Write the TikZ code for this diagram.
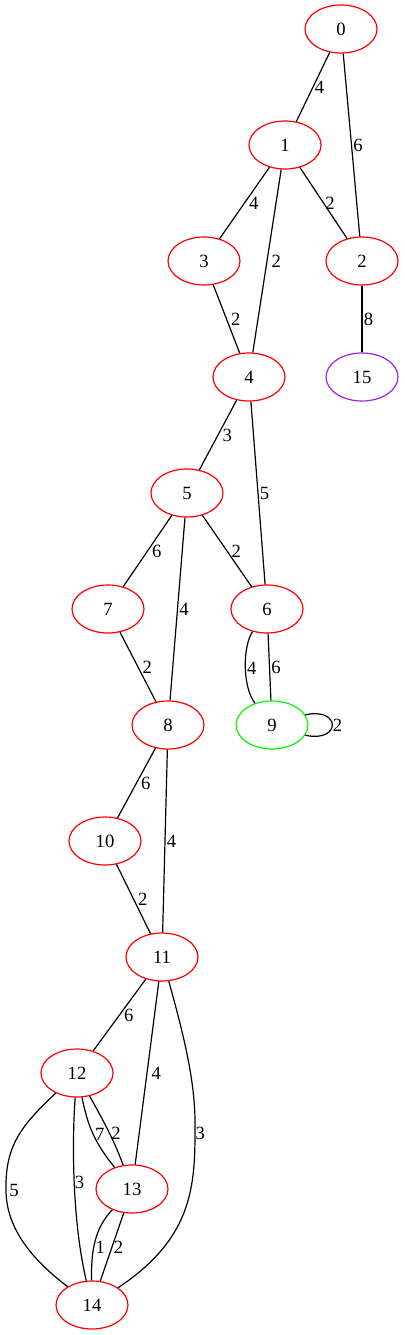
\documentclass[tikz,border=0pt]{standalone}
\usepackage{fontspec}
\setmainfont{Liberation Serif}
\usepackage{tikz}
\usetikzlibrary{shapes.geometric}
\definecolor{vertexRed}{RGB}{255, 0, 0}
\definecolor{goalGreen}{RGB}{0, 255, 0}
\definecolor{sinkPurple}{RGB}{160, 32, 240}
\definecolor{edgeBlack}{RGB}{0, 0, 0}

\begin{document}
\begin{tikzpicture}[x=0.75pt, y=-0.75pt, every node/.style={font=\fontsize{14}{16}\selectfont},
    vertex/.style={ellipse, draw=vertexRed, line width=0.9pt, minimum width=54pt, minimum height=36pt, inner sep=0pt},
    elab/.style={anchor=west, inner sep=1pt},
    elabs/.style={anchor=west, inner sep=3pt},
    edge/.style={line width=0.9pt, draw=edgeBlack}]
    \useasboundingbox (0,0) rectangle (404,1335);

    \node[vertex] (0) at (341,29) {0};
    \node[vertex] (1) at (285,145) {1};
    \node[vertex] (3) at (204,261) {3};
    \node[vertex] (2) at (362,261) {2};
    \node[vertex] (4) at (249,377) {4};
    \node[vertex, draw=sinkPurple] (15) at (362,377) {15};
    \node[vertex] (5) at (187,493) {5};
    \node[vertex] (7) at (108,609) {7};
    \node[vertex] (6) at (267,609) {6};
    \node[vertex] (8) at (168,725) {8};
    \node[vertex, draw=goalGreen] (9) at (272,725) {9};
    \node[vertex] (10) at (105,841) {10};
    \node[vertex] (11) at (162,957) {11};
    \node[vertex] (12) at (77,1073) {12};
    \node[vertex] (13) at (132,1189) {13};
    \node[vertex] (14) at (92,1305) {14};

    \draw[edge] (0) -- node[elab] {4} (1);
    \draw[edge] (0) -- node[elab] {6} (2);
    \draw[edge] (1) -- node[elabs] {4} (3);
    \draw[edge] (1) -- node[elabs] {2} (4);
    \draw[edge] (1) -- node[elab] {2} (2);
    \draw[edge] (3) -- node[elabs] {2} (4);
    \draw[edge] (2) -- node[elab] {8} (15);
    \draw[edge] (4) -- node[elabs] {3} (5);
    \draw[edge] (4) -- node[elab] {5} (6);
    \draw[edge] (5) -- node[elabs] {6} (7);
    \draw[edge] (5) -- node[elab] {4} (8);
    \draw[edge] (5) -- node[elabs] {2} (6);
    \draw[edge] (7) -- node[elabs] {2} (8);
    \draw[edge] (6) .. controls (242,648) and (243,688) .. node[elab] {4} (9);
    \draw[edge] (6) -- node[elab] {6} (9);
    % 9 hat eine Schleife auf sich selbst
    \draw[edge] (9.17) .. controls +(36,-8) and +(36,8) .. node[elab, inner sep=0pt] {2} (9.-17);
    \draw[edge] (8) -- node[elabs] {6} (10);
    \draw[edge] (8) -- node[elab] {4} (11);
    \draw[edge] (10) -- node[elabs] {2} (11);
    \draw[edge] (11) -- node[elabs] {6} (12);
    \draw[edge] (11) -- node[elabs] {4} (13);
    \draw[edge] (11) .. controls (188,1050) and (196,1090) .. (195,1133) node[elab, inner sep=0pt] {3}
        .. controls (195,1190) and (190,1240) .. (14);
    \draw[edge] (12) .. controls (88,1127) and (95,1143) .. node[elab] {7} (13);
    \draw[edge] (12) .. controls (100,1115) and (112,1135) .. node[elab, pos=.6] {2} (13);
    \draw[edge] (12) .. controls (22,1125) and (5,1145) .. (6,1190) node[elab, inner sep=2pt] {5}
        .. controls (6,1230) and (35,1262) .. (14);
    \draw[edge] (12) .. controls (72,1140) and (72,1220) .. node[elab, inner sep=0pt] {3} (14);
    \draw[edge] (13) .. controls (95,1228) and (91,1250) .. node[elab, pos=.6] {1} (14);
    \draw[edge] (13) -- node[elab] {2} (14);
\end{tikzpicture}
\end{document}
